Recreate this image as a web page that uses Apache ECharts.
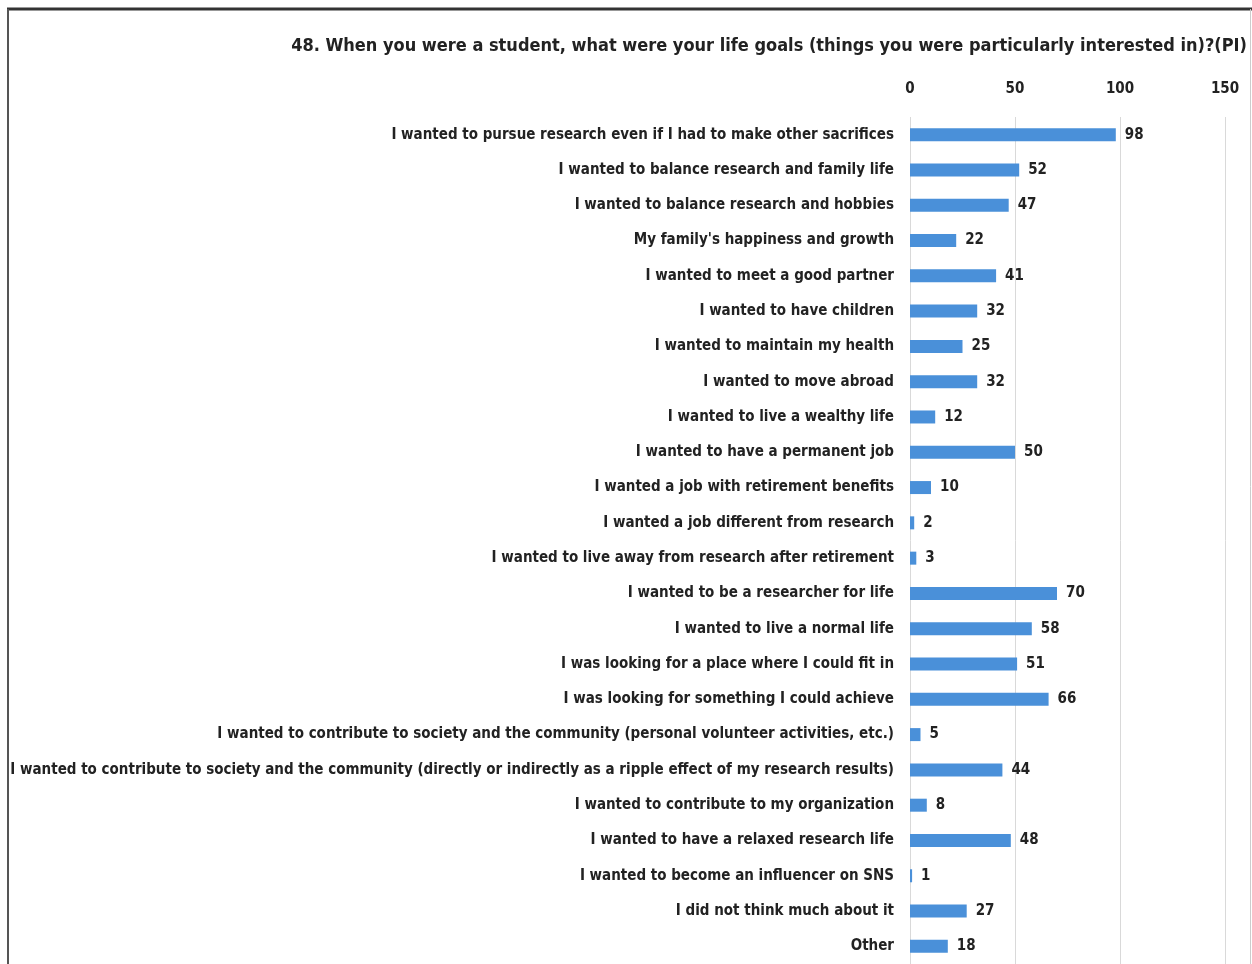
<!DOCTYPE html>
<html><head><meta charset="utf-8">
<script src="https://cdn.jsdelivr.net/npm/echarts@6/dist/echarts.min.js"></script>
<style>html,body{margin:0;padding:0;background:#fff}#c{width:1252px;height:964px}</style>
</head><body><div id="c"></div>
<script>
const titleText = "48. When you were a student, what were your life goals (things you were particularly interested in)?(PI)";
const categories = [
 "I wanted to pursue research even if I had to make other sacrifices",
 "I wanted to balance research and family life",
 "I wanted to balance research and hobbies",
 "My family's happiness and growth",
 "I wanted to meet a good partner",
 "I wanted to have children",
 "I wanted to maintain my health",
 "I wanted to move abroad",
 "I wanted to live a wealthy life",
 "I wanted to have a permanent job",
 "I wanted a job with retirement benefits",
 "I wanted a job different from research",
 "I wanted to live away from research after retirement",
 "I wanted to be a researcher for life",
 "I wanted to live a normal life",
 "I was looking for a place where I could fit in",
 "I was looking for something I could achieve",
 "I wanted to contribute to society and the community (personal volunteer activities, etc.)",
 "I wanted to contribute to society and the community (directly or indirectly as a ripple effect of my research results)",
 "I wanted to contribute to my organization",
 "I wanted to have a relaxed research life",
 "I wanted to become an influencer on SNS",
 "I did not think much about it",
 "Other"
];
const values = [98,52,47,22,41,32,25,32,12,50,10,2,3,70,58,51,66,5,44,8,48,1,27,18];
const axisTicks = [0,50,100,150];

const font = '"DejaVu Sans Condensed", "DejaVu Sans", sans-serif';
const chart = echarts.init(document.getElementById('c'), null, {renderer:'canvas'});
chart.setOption({
  animation:false,
  backgroundColor:'#fff',
  title:{text:titleText, right:0, top:32,
    textStyle:{fontFamily:font, fontSize:18, fontWeight:'bold', color:'#222'}},
  grid:{left:910, right:27, top:117, height:850, containLabel:false},
  xAxis:{type:'value', position:'top', min:axisTicks[0], max:axisTicks[axisTicks.length-1], interval:50,
    axisLine:{show:false}, axisTick:{show:false},
    axisLabel:{fontFamily:font, fontSize:15, fontWeight:'bold', color:'#222', margin:20},
    splitLine:{show:true, lineStyle:{color:'#d9d9d9', width:1}}},
  yAxis:{type:'category', data:categories, inverse:true,
    axisLine:{show:false}, axisTick:{show:false},
    axisLabel:{fontFamily:font, fontSize:15, fontWeight:'bold', color:'#222', margin:16}},
  series:[{type:'bar', data:values, barWidth:13,
    itemStyle:{color:'#4a90d9'},
    label:{show:true, position:'right', distance:9, fontFamily:font, fontSize:15, fontWeight:'bold', color:'#222'}}],
  graphic:[
    {type:'line', shape:{x1:7, y1:9, x2:1252, y2:9}, style:{stroke:'#333', lineWidth:3}, z:100},
    {type:'line', shape:{x1:8, y1:9, x2:8, y2:964}, style:{stroke:'#555', lineWidth:2}, z:100},
    {type:'line', shape:{x1:1250.5, y1:9, x2:1250.5, y2:964}, style:{stroke:'#ccc', lineWidth:1}, z:100}
  ]
});
</script></body></html>
